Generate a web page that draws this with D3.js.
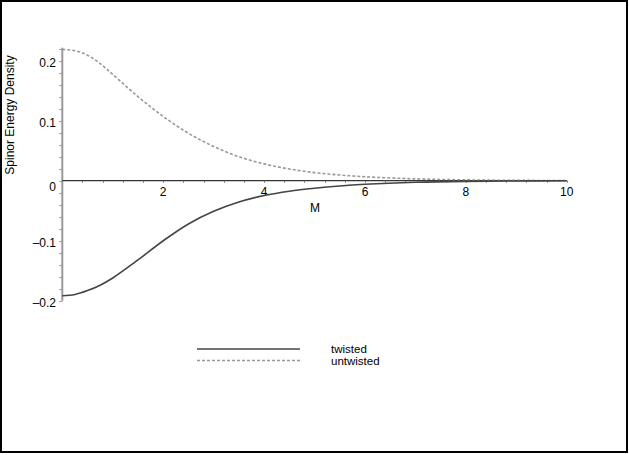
<!DOCTYPE html>
<html>
<head>
<meta charset="utf-8">
<script src="https://cdn.jsdelivr.net/npm/d3@7"></script>
<style>
  body { margin: 0; background: white; }
  text { font-family: "Liberation Sans", Arial, sans-serif; fill: black; }
</style>
</head>
<body>
<div id="chart"></div>
<script>
// values
const mValues = [0, 0.25, 0.5, 0.75, 1, 1.5, 2, 2.5, 3, 3.5, 4, 4.5, 5, 5.5, 6, 7, 8, 9, 10];
const twisted = [-0.1915, -0.1895, -0.183, -0.174, -0.162, -0.132, -0.100, -0.072, -0.051, -0.0355, -0.0248,
	-0.0175, -0.0125, -0.0087, -0.006, -0.0027, -0.0011, -0.0004, -0.0002];
const untwisted = [0.2185, 0.2165, 0.209, 0.195, 0.177, 0.140, 0.107, 0.079, 0.057, 0.040, 0.028,
	0.0195, 0.0135, 0.0095, 0.0066, 0.0031, 0.0014, 0.0006, 0.0003];
const xTicks = [2, 4, 6, 8, 10];
const yTicks = [0.2, 0.1, 0, -0.1, -0.2];
const seriesNames = ['twisted', 'untwisted'];

let width = 629,
	height = 455;

let svg = d3.select('#chart')
	.append('svg')
	.attr('width', width)
	.attr('height', height);

// frame
svg.append('rect')
	.attr('x', 1)
	.attr('y', 1)
	.attr('width', width - 3)
	.attr('height', height - 4)
	.style('fill', 'white')
	.style('stroke', 'black')
	.style('stroke-width', 2);

let x = d3.scaleLinear().domain([0, 10]).range([62.3, 566.8]);
let y = d3.scaleLinear().domain([-0.2, 0.2]).range([300.8, 60.6]);

// y axis, gray, ticks on the left side
let yAxis = svg.append('g');
yAxis.append('line')
	.attr('x1', x(0)).attr('x2', x(0))
	.attr('y1', y(-0.2)).attr('y2', y(0.2215))
	.style('stroke', '#999')
	.style('stroke-width', 2);

let yMinor = d3.range(-0.2, 0.2201, 0.02);
yAxis.selectAll('.yminor')
	.data(yMinor)
	.enter().append('line')
	.attr('x1', x(0) - 3).attr('x2', x(0))
	.attr('y1', d => Math.round(y(d)) + 0.5).attr('y2', d => Math.round(y(d)) + 0.5)
	.style('stroke', '#999')
	.style('stroke-width', 1);

yAxis.selectAll('.ylabel')
	.data(yTicks)
	.enter().append('text')
	.attr('x', 56)
	.attr('y', d => y(d) + (d == 0 ? 10.5 : 6))
	.attr('text-anchor', 'end')
	.style('font-size', '12px')
	.text(d => d == 0 ? '0' : (d < 0 ? '\u2013' : '') + Math.abs(d).toFixed(1));

// x axis along y = 0
let xAxis = svg.append('g');
xAxis.append('line')
	.attr('x1', x(0)).attr('x2', x(10))
	.attr('y1', y(0)).attr('y2', y(0))
	.style('stroke', '#333')
	.style('stroke-width', 1.2);

let xMinor = d3.range(0.4, 10.01, 0.4);
xAxis.selectAll('.xminor')
	.data(xMinor)
	.enter().append('line')
	.attr('x1', d => Math.round(x(d)) + 0.5).attr('x2', d => Math.round(x(d)) + 0.5)
	.attr('y1', y(0)).attr('y2', y(0) + 2)
	.style('stroke', '#777')
	.style('stroke-width', 1);

xAxis.selectAll('.xlabel')
	.data(xTicks)
	.enter().append('text')
	.attr('x', d => x(d))
	.attr('y', y(0) + 15)
	.attr('text-anchor', 'middle')
	.style('font-size', '12px')
	.text(d => d);

svg.append('text')
	.attr('x', 315)
	.attr('y', 212)
	.attr('text-anchor', 'middle')
	.style('font-size', '12px')
	.text('M');

svg.append('text')
	.attr('transform', 'translate(14,115) rotate(-90)')
	.attr('text-anchor', 'middle')
	.style('font-size', '12px')
	.text('Spinor Energy Density');

// curves
let line = d3.line()
	.x(d => x(d[0]))
	.y(d => y(d[1]))
	.curve(d3.curveCatmullRom.alpha(0.5));

svg.append('path')
	.datum(mValues.map((m, i) => [m, untwisted[i]]))
	.attr('d', line)
	.style('fill', 'none')
	.style('stroke', '#999')
	.style('stroke-width', 1.6)
	.style('stroke-dasharray', '3,2');

svg.append('path')
	.datum(mValues.map((m, i) => [m, twisted[i]]))
	.attr('d', line)
	.style('fill', 'none')
	.style('stroke', '#444')
	.style('stroke-width', 1.6);

// legend
let legend = svg.append('g');
seriesNames.forEach(function (name, i) {
	legend.append('line')
		.attr('x1', 197).attr('x2', 300)
		.attr('y1', 349 + i * 11.5).attr('y2', 349 + i * 11.5)
		.style('stroke', i == 0 ? '#444' : '#999')
		.style('stroke-width', 1.6)
		.style('stroke-dasharray', i == 0 ? null : '3,2');
	legend.append('text')
		.attr('x', 331)
		.attr('y', 353 + i * 11.5)
		.style('font-size', '11.5px')
		.text(name);
});
</script>
</body>
</html>
